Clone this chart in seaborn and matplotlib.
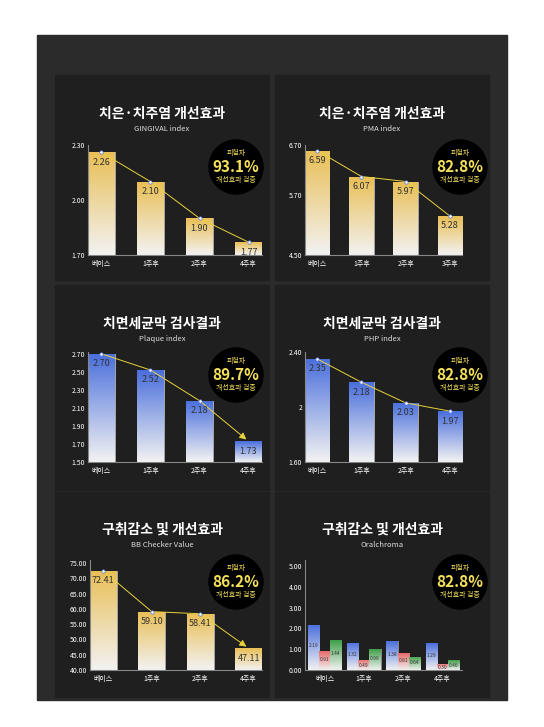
import numpy as np
import pandas as pd
import seaborn as sns
import matplotlib.pyplot as plt
from matplotlib.patches import Rectangle, Circle
from matplotlib.colors import LinearSegmentedColormap

sns.set_style("dark")
plt.rcParams['font.family'] = ['Noto Sans CJK KR', 'DejaVu Sans']

weeks = ["베이스", "1주후", "2주후", "4주후"]
weeks_pma = ["베이스", "1주후", "2주후", "3주후"]

gingival = [2.26, 2.10, 1.90, 1.77]
pma = [6.59, 6.07, 5.97, 5.28]
plaque = [2.70, 2.52, 2.18, 1.73]
php = [2.35, 2.18, 2.03, 1.97]
bb = [72.41, 59.10, 58.41, 47.11]
oral_series = ["A", "B", "C"]
oral = {"A": [2.19, 1.32, 1.38, 1.29],
        "B": [0.91, 0.49, 0.81, 0.30],
        "C": [1.44, 0.99, 0.64, 0.46]}

W, H = 544, 727
fig = plt.figure(figsize=(W / 100, H / 100), dpi=100)
fig.patch.set_facecolor("white")

def rect(x0, y0, x1, y1):
    return [x0 / W, 1 - y1 / H, (x1 - x0) / W, (y1 - y0) / H]

bg = fig.add_axes([0, 0, 1, 1], zorder=-10)
bg.set_xlim(0, W); bg.set_ylim(H, 0); bg.axis("off")
bg.add_patch(Rectangle((37, 35), 470, 665, color="#2b2b2b"))
for (x, y) in [(55, 75), (275, 75), (55, 285), (275, 285), (55, 492), (275, 492)]:
    bg.add_patch(Rectangle((x, y), 214, 205, color="#1f1f1f"))

YEL = "#e9bf55"; BLU = "#4a6fdc"; RED = "#e86a6a"; GRN = "#3f9f48"

def grad_bars(ax, color):
    cmap = LinearSegmentedColormap.from_list("g", ["#f2f2f2", color])
    for p in ax.patches:
        x, y = p.get_x(), p.get_y()
        w, h = p.get_width(), p.get_height()
        y0 = ax.get_ylim()[0]
        im = ax.imshow(np.linspace(0, 1, 100).reshape(-1, 1), cmap=cmap, origin="lower",
                       extent=[x, x + w, y0, y + h], aspect="auto", zorder=2)
        im.set_clip_path(p)
        p.set_facecolor("none")
        p.set_edgecolor("#dddddd")
        p.set_linewidth(0.5)

def style(ax, ticks, labels):
    ax.set_facecolor("none")
    ax.set_yticks(ticks)
    ax.set_yticklabels(labels, color="white", fontsize=5)
    ax.tick_params(axis="x", colors="white", labelsize=5, length=0)
    ax.tick_params(axis="y", length=0, pad=2)
    ax.set_xlabel(""); ax.set_ylabel("")
    ax.grid(False)
    for s in ["top", "right"]:
        ax.spines[s].set_visible(False)
    for s in ["left", "bottom"]:
        ax.spines[s].set_visible(True)
        ax.spines[s].set_color("#888888")
        ax.spines[s].set_linewidth(0.8)

def badge(cx, cy, pct):
    bg.add_patch(Circle((cx, cy), 27, color="black", zorder=5))
    bg.text(cx, cy - 14, "피험자", color="#f5e05a", fontsize=5, ha="center", va="center", zorder=6)
    bg.text(cx, cy, pct, color="#f5e05a", fontsize=11, fontweight="bold", ha="center", va="center", zorder=6)
    bg.text(cx, cy + 13, "개선효과 검증", color="#f5e05a", fontsize=5, ha="center", va="center", zorder=6)

def titles(cx, ty, title, sub):
    bg.text(cx, ty, title, color="white", fontsize=10, fontweight="bold", ha="center", va="center")
    bg.text(cx, ty + 15, sub, color="#dddddd", fontsize=5.5, ha="center", va="center")

def single(r, cats, vals, ylim, ticks, labels, color, arrow=False):
    ax = fig.add_axes(rect(*r))
    df = pd.DataFrame({"c": cats, "v": vals})
    sns.barplot(data=df, x="c", y="v", ax=ax, color=color, width=0.55, saturation=1)
    ax.set_ylim(*ylim)
    style(ax, ticks, labels)
    grad_bars(ax, color)
    xs = np.arange(len(vals))
    if arrow:
        ax.plot(xs[:-1], vals[:-1], color="#e8d23a", lw=0.7, zorder=4)
        ax.annotate("", xy=(xs[-1], vals[-1]), xytext=(xs[-2], vals[-2]),
                    arrowprops=dict(arrowstyle="-|>", color="#e8d23a", lw=0.7), zorder=4)
        ax.scatter(xs[:-1], vals[:-1], s=6, color="white", edgecolor="#4a6fdc", lw=0.5, zorder=5)
    else:
        ax.plot(xs, vals, color="#e8d23a", lw=0.7, zorder=4)
        ax.scatter(xs, vals, s=6, color="white", edgecolor="#4a6fdc", lw=0.5, zorder=5)
    span = ylim[1] - ylim[0]
    for x, v in zip(xs, vals):
        ax.text(x, v - span * 0.09, f"{v:.2f}", ha="center", va="center", fontsize=6.5,
                color="#333333", zorder=6)
    return ax

def fl(ticks):
    return [f"{t:.2f}" for t in ticks]

titles(162, 114, "치은·치주염 개선효과", "GINGIVAL index")
t = [1.70, 2.00, 2.30]
single((88, 145, 262, 255), weeks, gingival, (1.70, 2.30), t, fl(t), YEL)
badge(236, 167, "93.1%")

titles(382, 114, "치은·치주염 개선효과", "PMA index")
t = [4.50, 5.70, 6.70]
single((305, 145, 462, 255), weeks_pma, pma, (4.50, 6.70), t, fl(t), YEL)
badge(460, 167, "82.8%")

titles(162, 324, "치면세균막 검사결과", "Plaque index")
t = [1.5, 1.7, 1.9, 2.1, 2.3, 2.5, 2.7]
single((88, 352, 262, 462), weeks, plaque, (1.50, 2.72), t, fl(t), BLU, arrow=True)
badge(236, 375, "89.7%")

titles(382, 324, "치면세균막 검사결과", "PHP index")
single((305, 352, 462, 462), weeks, php, (1.60, 2.40), [1.60, 2.0, 2.40], ["1.60", "2", "2.40"], BLU)
badge(460, 375, "82.8%")

titles(162, 530, "구취감소 및 개선효과", "BB Checker Value")
t = list(range(40, 80, 5))
single((90, 560, 262, 670), weeks, bb, (40, 76), t, fl(t), YEL, arrow=True)
badge(236, 582, "86.2%")

titles(382, 530, "구취감소 및 개선효과", "Oralchroma")
ax = fig.add_axes(rect(305, 560, 462, 670))
long = pd.DataFrame([(w, s, oral[s][i]) for s in oral_series for i, w in enumerate(weeks)],
                    columns=["w", "s", "v"])
sns.barplot(data=long, x="w", y="v", hue="s", ax=ax, palette=[BLU, RED, GRN],
            width=0.85, saturation=1, legend=False)
ax.set_ylim(0, 5.3)
t = [0, 1, 2, 3, 4, 5]
style(ax, t, fl(t))
cols = [BLU] * 4 + [RED] * 4 + [GRN] * 4
patches = list(ax.patches)
for p, c in zip(patches, cols):
    cmap = LinearSegmentedColormap.from_list("g", ["#f2f2f2", c])
    im = ax.imshow(np.linspace(0, 1, 100).reshape(-1, 1), cmap=cmap, origin="lower",
                   extent=[p.get_x(), p.get_x() + p.get_width(), 0, p.get_height()],
                   aspect="auto", zorder=2)
    im.set_clip_path(p)
    p.set_facecolor("none"); p.set_edgecolor("#dddddd"); p.set_linewidth(0.4)
    h = p.get_height()
    ax.text(p.get_x() + p.get_width() / 2, h * 0.55 if h > 0.6 else h * 0.45, f"{h:.2f}",
            ha="center", va="center", fontsize=3.5, color="#333333", zorder=6)
ax.set_xlim(-0.5, 3.5)
badge(460, 582, "82.8%")

fig.savefig("out.png", dpi=100, facecolor="white")
